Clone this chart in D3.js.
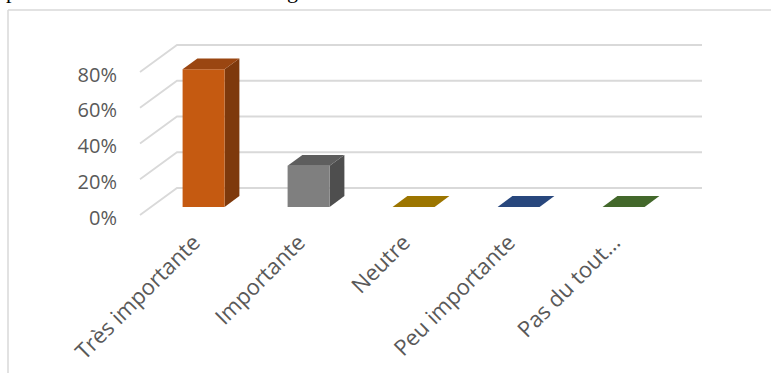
<!DOCTYPE html>
<html>
<head>
<meta charset="utf-8">
<script src="https://cdn.jsdelivr.net/npm/d3@7"></script>
<style>
  html, body { margin: 0; padding: 0; background: #fff; }
  svg { display: block; }
</style>
</head>
<body>
<svg id="chart" width="771" height="376"></svg>
<script>
// Categories, values and tick labels
const categories = ["Très importante", "Importante", "Neutre", "Peu importante", "Pas du tout…"];
const values = [0.77, 0.23, 0, 0, 0];
const tickValues = [0, 0.2, 0.4, 0.6, 0.8];
const frontColors = ["#C55A11", "#7F7F7F", "#9C7500", "#28477D", "#43682B"];
const topColors   = ["#9A4611", "#5E5E5E", "#9C7500", "#28477D", "#43682B"];
const sideColors  = ["#7E390C", "#4E4E4E", "#7A5B00", "#1E3660", "#345121"];

const svg = d3.select("#chart");

// Oblique projection: depth z in [0,1] shifts right and up
const DX = 37, DY = 27;
const x = d3.scaleBand().domain(categories).range([140, 665]).paddingInner(0).paddingOuter(0);
const y = d3.scaleLinear().domain([0, 0.8]).range([215, 72]);
const proj = (px, v, z) => [px + z * DX, y(v) - z * DY];

// Outer frame
svg.append("line").attr("x1", 8).attr("y1", 10).attr("x2", 771).attr("y2", 10)
  .attr("stroke", "#d9d9d9").attr("stroke-width", 1.5);
svg.append("line").attr("x1", 8).attr("y1", 10).attr("x2", 8).attr("y2", 373)
  .attr("stroke", "#d9d9d9").attr("stroke-width", 1.5);

// Descenders of the caption line above the frame
svg.append("text").attr("x", 6).attr("y", -2).attr("font-family", "Liberation Serif")
  .attr("font-size", 22).attr("fill", "#000").text("p");
svg.append("text").attr("x", 287).attr("y", -2).attr("font-family", "Liberation Serif")
  .attr("font-size", 22).attr("fill", "#000").text("g");

// Back wall gridlines and side wall diagonals
const grid = svg.append("g").attr("stroke", "#d9d9d9").attr("stroke-width", 1.8).attr("fill", "none");
const x0 = x.range()[0], x1 = x.range()[1];
tickValues.forEach(t => {
  const a = proj(x0, t, 0), b = proj(x0, t, 1), c = proj(x1, t, 1);
  grid.append("path").attr("d", `M${a[0]},${a[1]}L${b[0]},${b[1]}L${c[0]},${c[1]}`);
});

// Value axis labels
const fmt = d3.format(".0%");
svg.append("g").selectAll("text").data(tickValues).join("text")
  .attr("x", 117).attr("y", d => y(d) + 2)
  .attr("text-anchor", "end").attr("dominant-baseline", "central")
  .attr("font-family", "Open Sans").attr("font-size", 20).attr("fill", "#595959")
  .text(d => fmt(d));

// 3D columns
const z0 = 0.3, z1 = 0.7;
const bw = x.bandwidth() * 0.4;
const poly = pts => "M" + pts.map(p => p.join(",")).join("L") + "Z";
const bars = svg.append("g");
categories.forEach((c, i) => {
  const v = values[i];
  const bx = x(c) + (x.bandwidth() - bw) / 2;
  const g = bars.append("g");
  if (v > 0) {
    g.append("path").attr("fill", sideColors[i]).attr("d", poly([
      proj(bx + bw, 0, z0), proj(bx + bw, v, z0), proj(bx + bw, v, z1), proj(bx + bw, 0, z1)]));
    g.append("path").attr("fill", frontColors[i]).attr("d", poly([
      proj(bx, 0, z0), proj(bx + bw, 0, z0), proj(bx + bw, v, z0), proj(bx, v, z0)]));
  }
  g.append("path").attr("fill", topColors[i]).attr("d", poly([
    proj(bx, v, z0), proj(bx + bw, v, z0), proj(bx + bw, v, z1), proj(bx, v, z1)]));
});

// Category labels, rotated
svg.append("g").selectAll("text").data(categories).join("text")
  .attr("transform", d => `translate(${x(d) + x.bandwidth() / 2 + 9},${244}) rotate(-45)`)
  .attr("text-anchor", "end")
  .attr("font-family", "Open Sans").attr("font-size", 22).attr("fill", "#595959")
  .text(d => d);
</script>
</body>
</html>
